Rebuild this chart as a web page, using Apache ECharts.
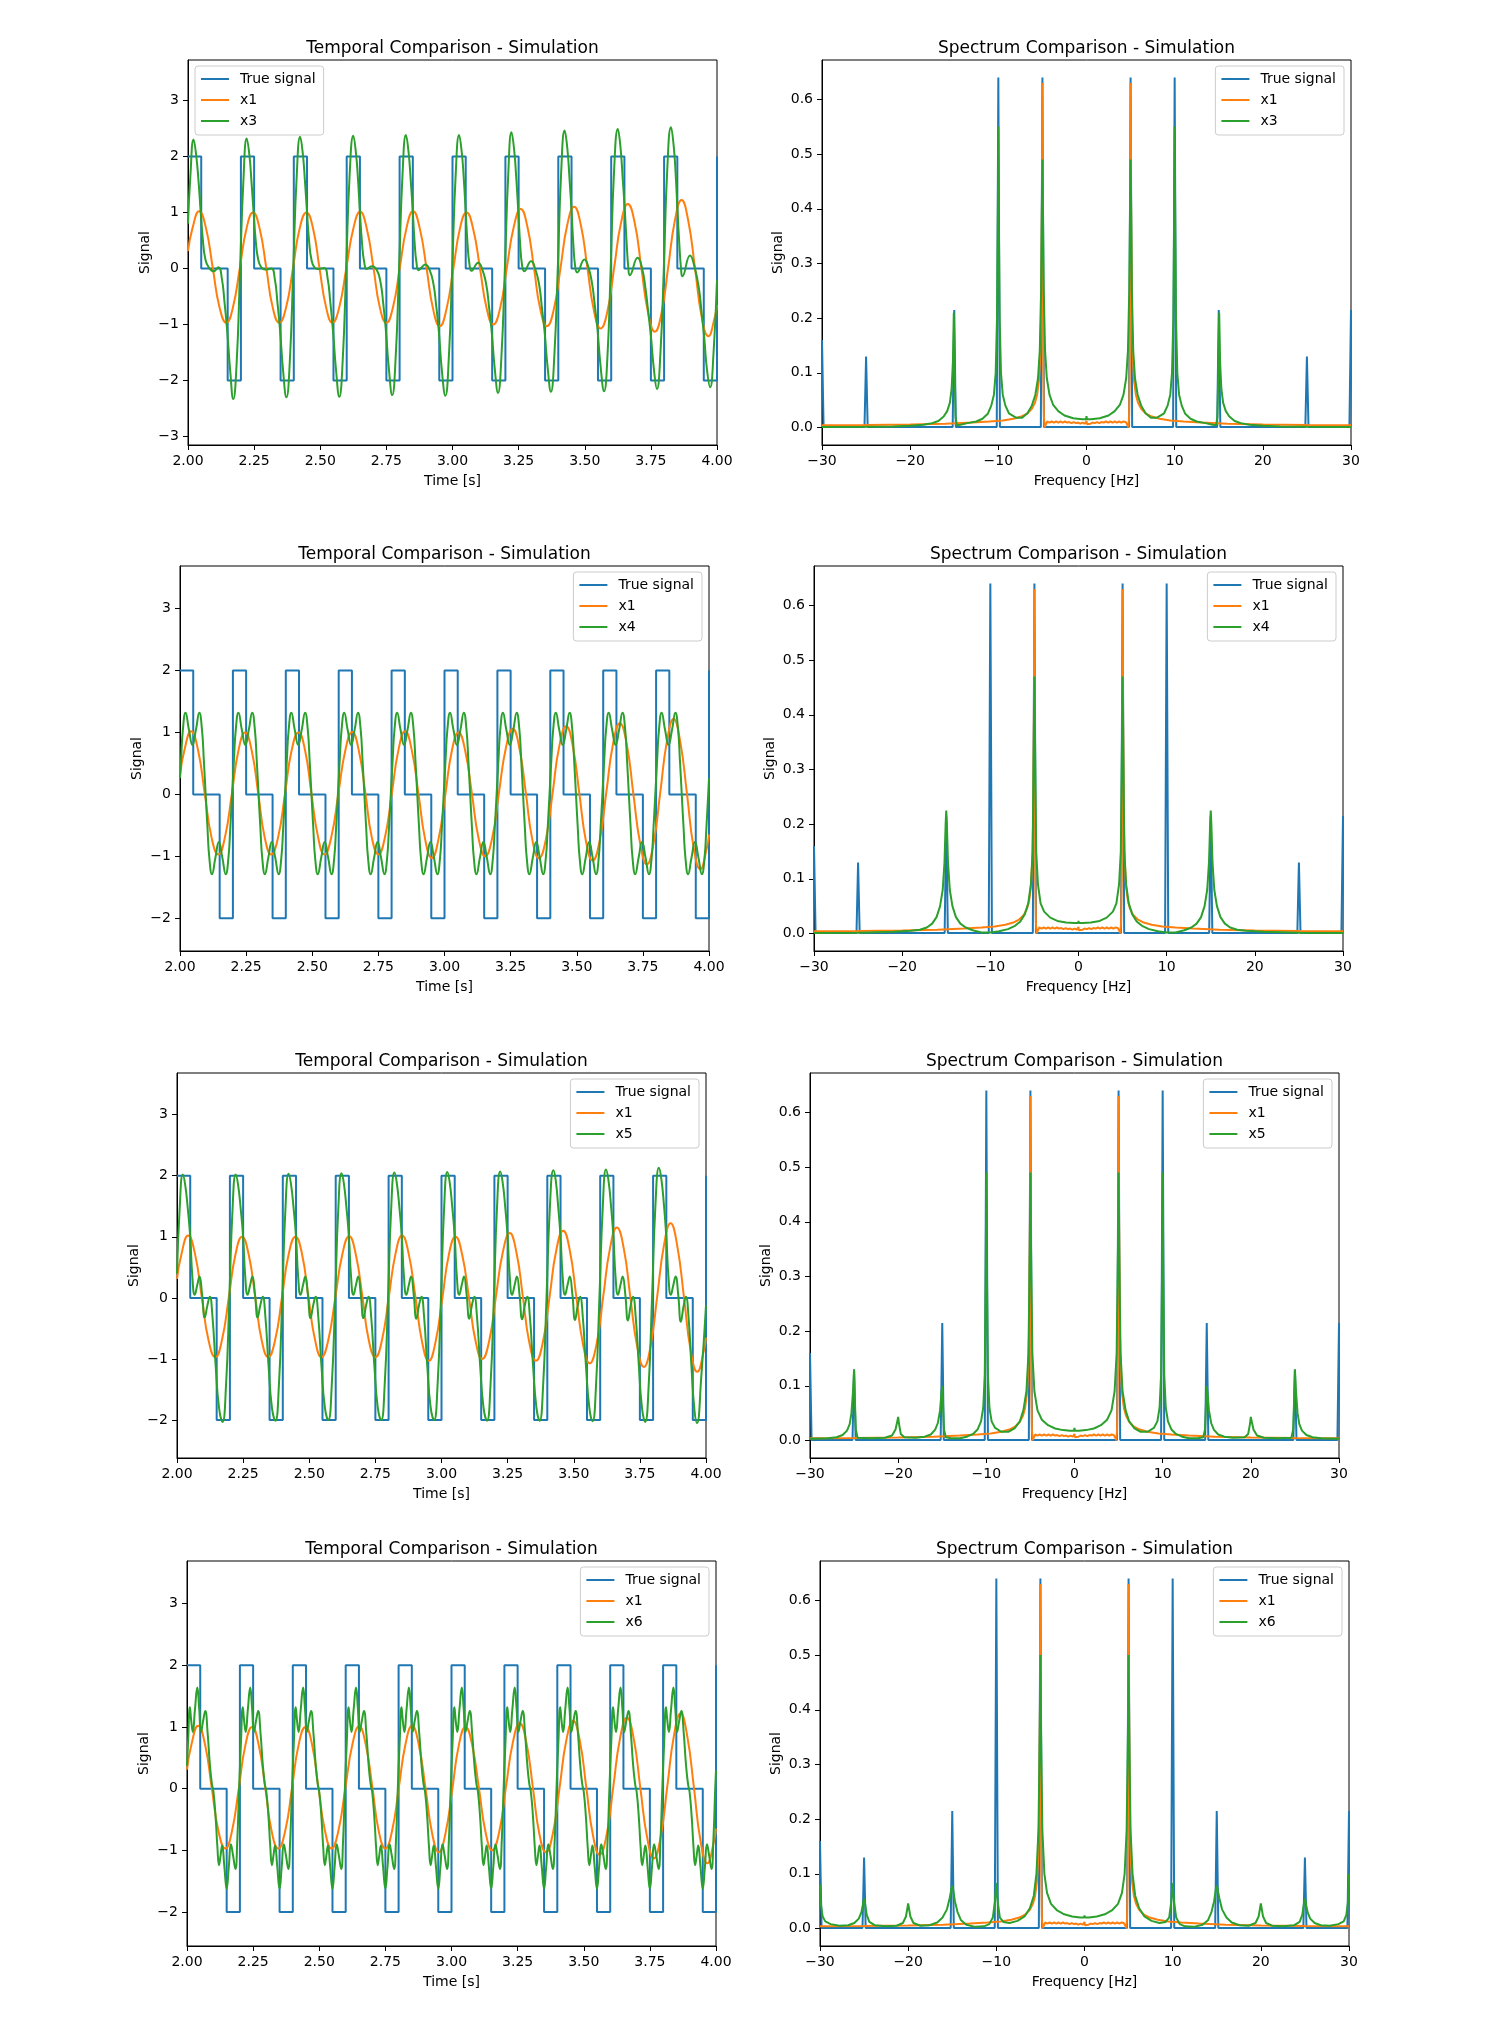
<!DOCTYPE html>
<html>
<head>
<meta charset="utf-8">
<title>Temporal / Spectrum Comparison - Simulation</title>
<script src="https://cdn.jsdelivr.net/npm/echarts@6/dist/echarts.min.js"></script>
<style>
  html, body { margin: 0; padding: 0; background: #fff; }
  #main { width: 1506px; height: 2028px; }
</style>
</head>
<body>
<div id="main"></div>
<script>
// ---- tick labels ----
var timeTicks = [2.00, 2.25, 2.50, 2.75, 3.00, 3.25, 3.50, 3.75, 4.00];
var signalTicks = [-3, -2, -1, 0, 1, 2, 3];
var freqTicks = [-30, -20, -10, 0, 10, 20, 30];
var specTicks = [0.0, 0.1, 0.2, 0.3, 0.4, 0.5, 0.6];
var estimateNames = ['x3', 'x4', 'x5', 'x6'];

// ---- time signals [t, value] ----
// true signal: value held until the next point
var trueSignal = [
  [2.00, 2], [2.05, 0], [2.15, -2], [2.20, 2], [2.25, 0], [2.35, -2],
  [2.40, 2], [2.45, 0], [2.55, -2], [2.60, 2], [2.65, 0], [2.75, -2],
  [2.80, 2], [2.85, 0], [2.95, -2], [3.00, 2], [3.05, 0], [3.15, -2],
  [3.20, 2], [3.25, 0], [3.35, -2], [3.40, 2], [3.45, 0], [3.55, -2],
  [3.60, 2], [3.65, 0], [3.75, -2], [3.80, 2], [3.85, 0], [3.95, -2],
  [4.00, 2]
];

var x1Signal = [
  [2.000,0.31],[2.017,0.72],[2.042,1.02],[2.068,0.72],[2.094,0.00],[2.119,-0.69],[2.145,-0.97],
  [2.170,-0.69],[2.196,0.01],[2.221,0.71],[2.246,1.00],[2.271,0.71],[2.296,0.01],[2.320,-0.69],[2.345,-0.97],
  [2.371,-0.69],[2.397,0.01],[2.422,0.71],[2.448,1.00],[2.473,0.71],[2.497,0.01],[2.522,-0.69],[2.546,-0.97],
  [2.572,-0.69],[2.599,0.02],[2.625,0.71],[2.651,1.01],[2.676,0.71],[2.701,0.02],[2.725,-0.69],[2.750,-0.97],
  [2.775,-0.69],[2.801,0.02],[2.826,0.72],[2.851,1.02],[2.876,0.72],[2.902,0.00],[2.927,-0.73],[2.952,-1.03],
  [2.977,-0.73],[3.003,-0.01],[3.028,0.71],[3.053,1.00],[3.078,0.71],[3.104,0.00],[3.129,-0.71],[3.154,-1.00],
  [3.180,-0.71],[3.206,0.03],[3.232,0.75],[3.258,1.06],[3.283,0.75],[3.308,0.01],[3.332,-0.73],[3.357,-1.03],
  [3.383,-0.73],[3.409,0.03],[3.434,0.78],[3.460,1.10],[3.485,0.78],[3.510,0.01],[3.535,-0.76],[3.560,-1.07],
  [3.586,-0.76],[3.612,0.04],[3.637,0.81],[3.663,1.15],[3.689,0.81],[3.714,0.01],[3.740,-0.80],[3.765,-1.13],
  [3.790,-0.80],[3.816,0.04],[3.841,0.86],[3.866,1.22],[3.891,0.86],[3.917,0.00],[3.942,-0.86],[3.967,-1.21],
  [3.992,-0.86],[4.000,-0.65]
];

var x3Signal = [
  [2.000,0.80],[2.009,1.65],
  [2.021,2.30],[2.031,2.02],[2.040,1.55],[2.048,1.00],[2.056,0.52],[2.065,0.18],[2.077,0.03],[2.097,-0.05],[2.115,0.02],[2.128,-0.18],[2.138,-0.60],[2.148,-1.10],[2.160,-1.85],[2.171,-2.33],[2.184,-1.68],[2.197,0.00],[2.210,1.62],
  [2.222,2.32],[2.232,2.03],[2.240,1.55],[2.248,1.00],[2.256,0.50],[2.265,0.17],[2.277,0.02],[2.292,-0.02],[2.315,0.00],[2.328,-0.18],[2.338,-0.60],[2.348,-1.10],[2.360,-1.85],[2.372,-2.30],[2.385,-1.65],[2.398,0.00],[2.411,1.65],
  [2.424,2.35],[2.434,2.05],[2.442,1.57],[2.450,1.00],[2.458,0.48],[2.467,0.15],[2.478,0.02],[2.492,-0.01],[2.515,0.01],[2.528,-0.18],[2.538,-0.60],[2.548,-1.10],[2.560,-1.83],[2.572,-2.29],[2.585,-1.63],[2.598,0.00],[2.611,1.66],
  [2.625,2.37],[2.635,2.06],[2.643,1.57],[2.650,1.00],[2.658,0.45],[2.666,0.12],[2.676,-0.01],[2.695,0.04],[2.713,-0.02],[2.728,-0.25],[2.738,-0.62],[2.748,-1.10],[2.760,-1.82],[2.772,-2.26],[2.785,-1.60],[2.798,0.00],[2.811,1.67],
  [2.824,2.38],[2.834,2.07],[2.842,1.58],[2.850,1.00],[2.857,0.45],[2.864,0.10],[2.872,-0.03],[2.897,0.07],[2.913,-0.02],[2.928,-0.28],[2.938,-0.65],[2.948,-1.10],[2.960,-1.83],[2.973,-2.27],[2.986,-1.60],[2.999,0.00],[3.012,1.67],
  [3.025,2.38],[3.035,2.07],[3.043,1.58],[3.050,1.00],[3.057,0.43],[3.064,0.08],[3.072,-0.04],[3.097,0.10],[3.113,-0.02],[3.128,-0.30],[3.138,-0.68],[3.148,-1.12],[3.160,-1.80],[3.172,-2.22],[3.185,-1.57],[3.198,0.00],[3.211,1.70],
  [3.223,2.43],[3.233,2.12],[3.241,1.62],[3.249,1.00],[3.256,0.42],[3.263,0.06],[3.271,-0.05],[3.297,0.13],[3.313,-0.01],[3.328,-0.30],[3.338,-0.70],[3.348,-1.12],[3.360,-1.78],[3.372,-2.20],[3.385,-1.56],[3.398,0.00],[3.411,1.73],
  [3.424,2.46],[3.434,2.15],[3.442,1.63],[3.450,1.03],[3.457,0.42],[3.464,0.03],[3.471,-0.07],[3.499,0.16],[3.514,0.02],[3.528,-0.28],[3.538,-0.66],[3.548,-1.08],[3.560,-1.75],[3.573,-2.19],[3.586,-1.55],[3.598,0.00],[3.611,1.75],
  [3.625,2.49],[3.635,2.17],[3.643,1.64],[3.652,1.00],[3.659,0.40],[3.665,0.00],[3.670,-0.12],[3.700,0.19],[3.716,0.02],[3.730,-0.37],[3.740,-0.78],[3.750,-1.20],[3.761,-1.78],[3.773,-2.15],[3.786,-1.52],[3.799,0.00],[3.812,1.77],
  [3.826,2.52],[3.836,2.20],[3.844,1.66],[3.851,1.00],[3.858,0.40],[3.864,0.00],[3.869,-0.14],[3.898,0.23],[3.915,0.03],[3.932,-0.37],[3.942,-0.80],[3.952,-1.25],[3.962,-1.80],[3.974,-2.12],[3.987,-1.50],[4.000,-0.20]
];

var x4Signal = [
  [2.000,0.26],[2.004,0.56],[2.011,1.05],[2.021,1.32],[2.034,1.04],[2.047,0.80],[2.060,1.04],[2.073,1.32],[2.083,1.05],[2.090,0.56],[2.097,0.00],[2.104,-0.55],[2.111,-1.03],[2.121,-1.29],[2.134,-1.02],[2.147,-0.77],[2.160,-1.02],[2.173,-1.29],[2.183,-1.03],[2.190,-0.55],[2.197,0.00],
  [2.204,0.56],[2.211,1.05],[2.221,1.32],[2.234,1.04],[2.247,0.80],[2.260,1.04],[2.273,1.32],[2.283,1.05],[2.290,0.56],[2.297,0.00],[2.304,-0.55],[2.311,-1.03],[2.321,-1.29],[2.334,-1.02],[2.347,-0.77],[2.360,-1.02],[2.373,-1.29],[2.383,-1.03],[2.390,-0.55],[2.397,0.00],
  [2.404,0.56],[2.411,1.05],[2.421,1.32],[2.434,1.04],[2.447,0.80],[2.460,1.04],[2.473,1.32],[2.483,1.05],[2.490,0.56],[2.497,0.00],[2.504,-0.55],[2.511,-1.03],[2.521,-1.29],[2.534,-1.02],[2.547,-0.77],[2.560,-1.02],[2.573,-1.29],[2.583,-1.03],[2.590,-0.55],[2.597,0.00],
  [2.604,0.56],[2.611,1.05],[2.621,1.32],[2.634,1.04],[2.647,0.80],[2.660,1.04],[2.673,1.32],[2.683,1.05],[2.690,0.56],[2.697,0.00],[2.704,-0.55],[2.711,-1.03],[2.721,-1.29],[2.734,-1.02],[2.747,-0.77],[2.760,-1.02],[2.773,-1.29],[2.783,-1.03],[2.790,-0.55],[2.797,0.00],
  [2.804,0.56],[2.811,1.05],[2.821,1.32],[2.834,1.04],[2.847,0.80],[2.860,1.04],[2.873,1.32],[2.883,1.05],[2.890,0.56],[2.897,0.00],[2.904,-0.55],[2.911,-1.03],[2.921,-1.29],[2.934,-1.02],[2.947,-0.77],[2.960,-1.02],[2.973,-1.29],[2.983,-1.03],[2.990,-0.55],[2.997,0.00],
  [3.004,0.56],[3.011,1.05],[3.021,1.32],[3.034,1.04],[3.047,0.80],[3.060,1.04],[3.073,1.32],[3.083,1.05],[3.090,0.56],[3.097,0.00],[3.104,-0.55],[3.111,-1.03],[3.121,-1.29],[3.134,-1.02],[3.147,-0.77],[3.160,-1.02],[3.173,-1.29],[3.183,-1.03],[3.190,-0.55],[3.197,0.00],
  [3.204,0.56],[3.211,1.05],[3.221,1.32],[3.234,1.04],[3.247,0.80],[3.260,1.04],[3.273,1.32],[3.283,1.05],[3.290,0.56],[3.297,0.00],[3.304,-0.55],[3.311,-1.03],[3.321,-1.29],[3.334,-1.02],[3.347,-0.77],[3.360,-1.02],[3.373,-1.29],[3.383,-1.03],[3.390,-0.55],[3.397,0.00],
  [3.404,0.56],[3.411,1.05],[3.421,1.32],[3.434,1.04],[3.447,0.80],[3.460,1.04],[3.473,1.32],[3.483,1.05],[3.490,0.56],[3.497,0.00],[3.504,-0.55],[3.511,-1.03],[3.521,-1.29],[3.534,-1.02],[3.547,-0.77],[3.560,-1.02],[3.573,-1.29],[3.583,-1.03],[3.590,-0.55],[3.597,0.00],
  [3.604,0.56],[3.611,1.05],[3.621,1.32],[3.634,1.04],[3.647,0.80],[3.660,1.04],[3.673,1.32],[3.683,1.05],[3.690,0.56],[3.697,0.00],[3.704,-0.55],[3.711,-1.03],[3.721,-1.29],[3.734,-1.02],[3.747,-0.77],[3.760,-1.02],[3.773,-1.29],[3.783,-1.03],[3.790,-0.55],[3.797,0.00],
  [3.804,0.56],[3.811,1.05],[3.821,1.32],[3.834,1.04],[3.847,0.80],[3.860,1.04],[3.873,1.32],[3.883,1.05],[3.890,0.56],[3.897,0.00],[3.904,-0.55],[3.911,-1.03],[3.921,-1.29],[3.934,-1.02],[3.947,-0.77],[3.960,-1.02],[3.973,-1.29],[3.983,-1.03],[3.990,-0.55],[3.997,0.00],
  [4.000,0.26]
];

var x5Signal = [
  [2.000,0.40],[2.010,1.45],
  [2.022,2.02],[2.031,1.85],[2.041,1.45],[2.050,1.00],[2.058,0.35],[2.067,0.05],[2.077,0.22],[2.085,0.35],[2.095,0.05],[2.105,-0.32],[2.115,-0.12],[2.124,0.02],[2.134,-0.30],[2.146,-1.10],[2.159,-1.80],[2.172,-2.03],[2.185,-1.46],[2.198,0.00],[2.210,1.45],
  [2.222,2.02],[2.231,1.85],[2.241,1.45],[2.250,1.00],[2.258,0.35],[2.267,0.05],[2.277,0.22],[2.285,0.35],[2.295,0.05],[2.305,-0.32],[2.315,-0.12],[2.324,0.02],[2.334,-0.30],[2.346,-1.10],[2.359,-1.80],[2.372,-2.01],[2.385,-1.45],[2.398,0.00],[2.410,1.46],
  [2.422,2.03],[2.431,1.86],[2.441,1.46],[2.450,1.00],[2.458,0.35],[2.467,0.05],[2.477,0.22],[2.485,0.35],[2.495,0.05],[2.505,-0.33],[2.515,-0.12],[2.524,0.02],[2.534,-0.30],[2.546,-1.10],[2.559,-1.79],[2.572,-2.00],[2.585,-1.44],[2.598,0.00],[2.610,1.47],
  [2.622,2.04],[2.631,1.87],[2.641,1.46],[2.650,1.00],[2.658,0.35],[2.667,0.05],[2.677,0.22],[2.685,0.35],[2.695,0.05],[2.705,-0.33],[2.715,-0.12],[2.724,0.02],[2.734,-0.30],[2.746,-1.10],[2.759,-1.79],[2.772,-2.00],[2.785,-1.44],[2.798,0.00],[2.810,1.48],
  [2.822,2.05],[2.831,1.88],[2.841,1.47],[2.850,1.00],[2.858,0.35],[2.867,0.05],[2.877,0.22],[2.885,0.35],[2.895,0.05],[2.905,-0.34],[2.915,-0.12],[2.924,0.02],[2.934,-0.30],[2.946,-1.10],[2.959,-1.79],[2.972,-2.00],[2.985,-1.44],[2.998,0.00],[3.010,1.48],
  [3.022,2.06],[3.031,1.89],[3.041,1.47],[3.050,1.00],[3.058,0.35],[3.067,0.05],[3.077,0.22],[3.085,0.35],[3.095,0.05],[3.105,-0.34],[3.115,-0.12],[3.124,0.02],[3.134,-0.30],[3.146,-1.10],[3.159,-1.80],[3.172,-2.01],[3.185,-1.45],[3.198,0.00],[3.210,1.49],
  [3.222,2.07],[3.231,1.90],[3.241,1.48],[3.250,1.00],[3.258,0.35],[3.267,0.05],[3.277,0.22],[3.285,0.35],[3.295,0.05],[3.305,-0.35],[3.315,-0.12],[3.324,0.02],[3.334,-0.30],[3.346,-1.10],[3.359,-1.80],[3.371,-2.01],[3.384,-1.45],[3.397,0.00],[3.410,1.50],
  [3.423,2.09],[3.432,1.92],[3.441,1.50],[3.450,1.00],[3.458,0.35],[3.467,0.05],[3.477,0.22],[3.485,0.35],[3.495,0.05],[3.505,-0.36],[3.515,-0.13],[3.524,0.02],[3.534,-0.30],[3.546,-1.10],[3.559,-1.80],[3.571,-2.02],[3.584,-1.45],[3.597,0.00],[3.610,1.51],
  [3.622,2.10],[3.631,1.93],[3.641,1.50],[3.650,1.00],[3.658,0.35],[3.667,0.05],[3.677,0.22],[3.685,0.35],[3.695,0.05],[3.705,-0.37],[3.715,-0.13],[3.724,0.02],[3.734,-0.30],[3.746,-1.10],[3.758,-1.80],[3.770,-2.03],[3.783,-1.46],[3.796,0.00],[3.809,1.53],
  [3.822,2.13],[3.831,1.95],[3.841,1.52],[3.850,1.00],[3.858,0.35],[3.867,0.05],[3.877,0.22],[3.885,0.35],[3.895,0.05],[3.905,-0.39],[3.915,-0.14],[3.924,0.02],[3.934,-0.32],[3.945,-1.12],[3.956,-1.82],[3.966,-2.05],[3.982,-1.30],[4.000,-0.12]
];

var x6Signal = [
  [2.000,0.37],
  [2.004,0.75],[2.011,1.32],[2.016,1.10],[2.022,0.92],[2.030,1.28],[2.039,1.64],[2.046,1.30],[2.053,0.92],[2.061,1.10],[2.069,1.26],[2.078,0.90],[2.086,0.42],[2.094,0.08],[2.100,-0.05],[2.108,-0.45],[2.115,-0.95],[2.121,-1.24],[2.127,-1.08],[2.133,-0.92],[2.141,-1.25],[2.150,-1.62],[2.158,-1.27],[2.166,-0.90],[2.174,-1.08],[2.183,-1.30],[2.190,-0.85],[2.197,0.00],
  [2.204,0.75],[2.211,1.32],[2.216,1.10],[2.222,0.92],[2.230,1.28],[2.239,1.64],[2.246,1.30],[2.253,0.92],[2.261,1.10],[2.269,1.26],[2.278,0.90],[2.286,0.42],[2.294,0.08],[2.300,-0.05],[2.308,-0.45],[2.315,-0.95],[2.321,-1.24],[2.327,-1.08],[2.333,-0.92],[2.341,-1.25],[2.350,-1.62],[2.358,-1.27],[2.366,-0.90],[2.374,-1.08],[2.383,-1.30],[2.390,-0.85],[2.397,0.00],
  [2.404,0.75],[2.411,1.32],[2.416,1.10],[2.422,0.92],[2.430,1.28],[2.439,1.64],[2.446,1.30],[2.453,0.92],[2.461,1.10],[2.469,1.26],[2.478,0.90],[2.486,0.42],[2.494,0.08],[2.500,-0.05],[2.508,-0.45],[2.515,-0.95],[2.521,-1.24],[2.527,-1.08],[2.533,-0.92],[2.541,-1.25],[2.550,-1.62],[2.558,-1.27],[2.566,-0.90],[2.574,-1.08],[2.583,-1.30],[2.590,-0.85],[2.597,0.00],
  [2.604,0.75],[2.611,1.32],[2.616,1.10],[2.622,0.92],[2.630,1.28],[2.639,1.64],[2.646,1.30],[2.653,0.92],[2.661,1.10],[2.669,1.26],[2.678,0.90],[2.686,0.42],[2.694,0.08],[2.700,-0.05],[2.708,-0.45],[2.715,-0.95],[2.721,-1.24],[2.727,-1.08],[2.733,-0.92],[2.741,-1.25],[2.750,-1.62],[2.758,-1.27],[2.766,-0.90],[2.774,-1.08],[2.783,-1.30],[2.790,-0.85],[2.797,0.00],
  [2.804,0.75],[2.811,1.32],[2.816,1.10],[2.822,0.92],[2.830,1.28],[2.839,1.64],[2.846,1.30],[2.853,0.92],[2.861,1.10],[2.869,1.26],[2.878,0.90],[2.886,0.42],[2.894,0.08],[2.900,-0.05],[2.908,-0.45],[2.915,-0.95],[2.921,-1.24],[2.927,-1.08],[2.933,-0.92],[2.941,-1.25],[2.950,-1.62],[2.958,-1.27],[2.966,-0.90],[2.974,-1.08],[2.983,-1.30],[2.990,-0.85],[2.997,0.00],
  [3.004,0.75],[3.011,1.32],[3.016,1.10],[3.022,0.92],[3.030,1.28],[3.039,1.64],[3.046,1.30],[3.053,0.92],[3.061,1.10],[3.069,1.26],[3.078,0.90],[3.086,0.42],[3.094,0.08],[3.100,-0.05],[3.108,-0.45],[3.115,-0.95],[3.121,-1.24],[3.127,-1.08],[3.133,-0.92],[3.141,-1.25],[3.150,-1.62],[3.158,-1.27],[3.166,-0.90],[3.174,-1.08],[3.183,-1.30],[3.190,-0.85],[3.197,0.00],
  [3.204,0.75],[3.211,1.32],[3.216,1.10],[3.222,0.92],[3.230,1.28],[3.239,1.64],[3.246,1.30],[3.253,0.92],[3.261,1.10],[3.269,1.26],[3.278,0.90],[3.286,0.42],[3.294,0.08],[3.300,-0.05],[3.308,-0.45],[3.315,-0.95],[3.321,-1.24],[3.327,-1.08],[3.333,-0.92],[3.341,-1.25],[3.350,-1.62],[3.358,-1.27],[3.366,-0.90],[3.374,-1.08],[3.383,-1.30],[3.390,-0.85],[3.397,0.00],
  [3.404,0.75],[3.411,1.32],[3.416,1.10],[3.422,0.92],[3.430,1.28],[3.439,1.64],[3.446,1.30],[3.453,0.92],[3.461,1.10],[3.469,1.26],[3.478,0.90],[3.486,0.42],[3.494,0.08],[3.500,-0.05],[3.508,-0.45],[3.515,-0.95],[3.521,-1.24],[3.527,-1.08],[3.533,-0.92],[3.541,-1.25],[3.550,-1.62],[3.558,-1.27],[3.566,-0.90],[3.574,-1.08],[3.583,-1.30],[3.590,-0.85],[3.597,0.00],
  [3.604,0.75],[3.611,1.32],[3.616,1.10],[3.622,0.92],[3.630,1.28],[3.639,1.64],[3.646,1.30],[3.653,0.92],[3.661,1.10],[3.669,1.26],[3.678,0.90],[3.686,0.42],[3.694,0.08],[3.700,-0.05],[3.708,-0.45],[3.715,-0.95],[3.721,-1.24],[3.727,-1.08],[3.733,-0.92],[3.741,-1.25],[3.750,-1.62],[3.758,-1.27],[3.766,-0.90],[3.774,-1.08],[3.783,-1.30],[3.790,-0.85],[3.797,0.00],
  [3.804,0.75],[3.811,1.32],[3.816,1.10],[3.822,0.92],[3.830,1.28],[3.839,1.64],[3.846,1.30],[3.853,0.92],[3.861,1.10],[3.869,1.26],[3.878,0.90],[3.886,0.42],[3.894,0.08],[3.900,-0.05],[3.908,-0.45],[3.915,-0.95],[3.921,-1.24],[3.927,-1.08],[3.933,-0.92],[3.941,-1.25],[3.950,-1.62],[3.958,-1.27],[3.966,-0.90],[3.974,-1.08],[3.983,-1.30],[3.990,-0.85],[3.997,0.00],
  [4.000,0.30]
];

// ---- spectra [frequency Hz, magnitude] ----
var trueSpectrum = [
  [-30.2,0.000],[-30.0,0.160],[-29.82,0.001],[-25.18,0.001],[-25.0,0.130],[-24.82,0.001],
  [-15.18,0.001],[-15.0,0.215],[-14.82,0.001],[-10.18,0.001],[-10.0,0.640],[-9.82,0.001],
  [-5.18,0.001],[-5.0,0.640],[-4.82,0.001],[4.82,0.001],[5.0,0.640],[5.18,0.001],
  [9.82,0.001],[10.0,0.640],[10.18,0.001],[14.82,0.001],[15.0,0.215],[15.18,0.001],
  [24.82,0.001],[25.0,0.130],[25.18,0.001],[29.82,0.001],[30.0,0.215],[30.2,0.000]
];

var x1Spectrum = [
  [-30,0.004],[-25,0.0045],[-20,0.0055],[-16,0.007],[-13,0.009],[-11,0.011],[-9.5,0.013],[-8.3,0.016],
  [-7.4,0.020],[-6.7,0.026],[-6.2,0.034],[-5.85,0.045],[-5.6,0.060],[-5.4,0.085],[-5.25,0.13],[-5.13,0.22],
  [-5.05,0.42],[-5.0,0.63],[-4.96,0.40],[-4.9,0.10],[-4.83,0.02],[-4.75,0.000],[-4.6,0.006],[-4.45,0.011],
  [-4.2,0.009],[-3.95,0.011],[-3.7,0.009],[-3.45,0.011],[-3.2,0.009],[-2.95,0.011],[-2.7,0.009],[-2.45,0.011],
  [-2.2,0.009],[-1.95,0.010],[-1.7,0.008],[-1.45,0.010],[-1.2,0.008],[-0.95,0.009],[-0.7,0.007],[-0.45,0.009],
  [-0.2,0.007],[-0.05,0.005],[0,0.012],[0.05,0.006],[0.2,0.008],[0.45,0.007],[0.7,0.009],[0.95,0.008],
  [1.2,0.010],[1.45,0.008],[1.7,0.010],[1.95,0.009],[2.2,0.011],[2.45,0.009],[2.7,0.011],[2.95,0.009],
  [3.2,0.011],[3.45,0.009],[3.7,0.011],[3.95,0.009],[4.2,0.011],[4.45,0.010],[4.6,0.006],[4.75,0.000],
  [4.83,0.02],[4.9,0.10],[4.96,0.40],[5.0,0.63],[5.05,0.42],[5.13,0.22],[5.25,0.13],[5.4,0.085],
  [5.6,0.060],[5.85,0.045],[6.2,0.034],[6.7,0.026],[7.4,0.020],[8.3,0.016],[9.5,0.013],[11,0.011],
  [13,0.009],[16,0.007],[20,0.0055],[25,0.0045],[30,0.004]
];

var x3Spectrum = [
  [-30,0.001],[-25,0.0015],[-22,0.002],[-20,0.003],[-18.5,0.005],[-17.5,0.008],[-16.8,0.012],[-16.2,0.020],
  [-15.8,0.030],[-15.5,0.045],[-15.3,0.070],[-15.15,0.12],[-15.05,0.21],[-14.95,0.10],[-14.85,0.02],[-14.7,0.004],
  [-14.3,0.005],[-13.5,0.008],[-12.5,0.011],[-11.8,0.016],[-11.2,0.025],[-10.8,0.040],[-10.5,0.060],[-10.3,0.10],
  [-10.15,0.20],[-10.05,0.40],[-10.0,0.55],[-9.95,0.40],[-9.85,0.20],[-9.7,0.10],[-9.5,0.060],[-9.2,0.040],
  [-8.8,0.026],[-8.0,0.018],[-7.3,0.018],[-6.7,0.026],[-6.2,0.040],[-5.8,0.060],[-5.5,0.090],[-5.3,0.14],
  [-5.15,0.25],[-5.05,0.42],[-5.0,0.49],[-4.95,0.42],[-4.85,0.25],[-4.7,0.14],[-4.5,0.090],[-4.2,0.060],
  [-3.8,0.042],[-3.2,0.030],[-2.5,0.022],[-1.5,0.017],[-0.5,0.015],[-0.05,0.015],[0,0.021],[0.05,0.015],
  [0.5,0.015],[1.5,0.017],[2.5,0.022],[3.2,0.030],[3.8,0.042],[4.2,0.060],[4.5,0.090],[4.7,0.14],
  [4.85,0.25],[4.95,0.42],[5.0,0.49],[5.05,0.42],[5.15,0.25],[5.3,0.14],[5.5,0.090],[5.8,0.060],
  [6.2,0.040],[6.7,0.026],[7.3,0.018],[8.0,0.018],[8.8,0.026],[9.2,0.040],[9.5,0.060],[9.7,0.10],
  [9.85,0.20],[9.95,0.40],[10.0,0.55],[10.05,0.40],[10.15,0.20],[10.3,0.10],[10.5,0.060],[10.8,0.040],
  [11.2,0.025],[11.8,0.016],[12.5,0.011],[13.5,0.008],[14.3,0.005],[14.7,0.004],[14.85,0.02],[14.95,0.10],
  [15.05,0.21],[15.15,0.12],[15.3,0.070],[15.5,0.045],[15.8,0.030],[16.2,0.020],[16.8,0.012],[17.5,0.008],
  [18.5,0.005],[20,0.003],[22,0.002],[25,0.0015],[30,0.001]
];

var x4Spectrum = [
  [-30,0.001],[-25,0.0015],[-21,0.003],[-19,0.005],[-18,0.007],[-17.2,0.011],[-16.6,0.018],[-16.1,0.030],
  [-15.7,0.050],[-15.4,0.080],[-15.2,0.13],[-15.07,0.20],[-15.0,0.225],[-14.93,0.20],[-14.8,0.13],[-14.6,0.080],
  [-14.3,0.050],[-13.9,0.030],[-13.4,0.018],[-12.8,0.011],[-12,0.006],[-11,0.002],[-10,0.002],[-9,0.004],
  [-8,0.008],[-7.2,0.014],[-6.6,0.022],[-6.1,0.035],[-5.7,0.055],[-5.4,0.090],[-5.2,0.15],[-5.07,0.35],
  [-5.0,0.47],[-4.93,0.35],[-4.8,0.15],[-4.6,0.090],[-4.3,0.055],[-3.9,0.040],[-3.2,0.029],[-2.4,0.023],
  [-1.4,0.020],[-0.5,0.019],[-0.05,0.019],[0,0.023],[0.05,0.019],[0.5,0.019],[1.4,0.020],[2.4,0.023],
  [3.2,0.029],[3.9,0.040],[4.3,0.055],[4.6,0.090],[4.8,0.15],[4.93,0.35],[5.0,0.47],[5.07,0.35],
  [5.2,0.15],[5.4,0.090],[5.7,0.055],[6.1,0.035],[6.6,0.022],[7.2,0.014],[8,0.008],[9,0.004],
  [10,0.002],[11,0.002],[12,0.006],[12.8,0.011],[13.4,0.018],[13.9,0.030],[14.3,0.050],[14.6,0.080],
  [14.8,0.13],[14.93,0.20],[15.0,0.225],[15.07,0.20],[15.2,0.13],[15.4,0.080],[15.7,0.050],[16.1,0.030],
  [16.6,0.018],[17.2,0.011],[18,0.007],[19,0.005],[21,0.003],[25,0.0015],[30,0.001]
];

var x5Spectrum = [
  [-30,0.003],[-28,0.004],[-27,0.006],[-26.3,0.010],[-25.8,0.018],[-25.5,0.030],[-25.3,0.050],[-25.12,0.090],
  [-25.0,0.13],[-24.9,0.070],[-24.8,0.020],[-24.6,0.005],[-23,0.004],[-21.5,0.005],[-20.7,0.009],[-20.3,0.020],
  [-20.1,0.035],[-20.0,0.043],[-19.9,0.030],[-19.7,0.012],[-19.3,0.006],[-18,0.005],[-17,0.007],[-16.3,0.011],
  [-15.8,0.020],[-15.5,0.032],[-15.25,0.055],[-15.1,0.085],[-15.0,0.10],[-14.9,0.060],[-14.8,0.020],[-14.6,0.006],
  [-14,0.004],[-13,0.004],[-12.2,0.007],[-11.5,0.012],[-11,0.020],[-10.6,0.035],[-10.35,0.060],[-10.18,0.12],
  [-10.07,0.30],[-10.0,0.49],[-9.93,0.30],[-9.82,0.12],[-9.65,0.060],[-9.4,0.035],[-9.0,0.023],[-8.3,0.016],
  [-7.5,0.016],[-6.8,0.022],[-6.2,0.035],[-5.8,0.055],[-5.45,0.090],[-5.22,0.16],[-5.07,0.35],[-5.0,0.49],
  [-4.93,0.35],[-4.78,0.16],[-4.55,0.090],[-4.2,0.055],[-3.7,0.038],[-3.0,0.028],[-2.2,0.022],[-1.3,0.019],
  [-0.5,0.018],[-0.05,0.018],[0,0.023],[0.05,0.018],[0.5,0.018],[1.3,0.019],[2.2,0.022],[3.0,0.028],
  [3.7,0.038],[4.2,0.055],[4.55,0.090],[4.78,0.16],[4.93,0.35],[5.0,0.49],[5.07,0.35],[5.22,0.16],
  [5.45,0.090],[5.8,0.055],[6.2,0.035],[6.8,0.022],[7.5,0.016],[8.3,0.016],[9.0,0.023],[9.4,0.035],
  [9.65,0.060],[9.82,0.12],[9.93,0.30],[10.0,0.49],[10.07,0.30],[10.18,0.12],[10.35,0.060],[10.6,0.035],
  [11,0.020],[11.5,0.012],[12.2,0.007],[13,0.004],[14,0.004],[14.6,0.006],[14.8,0.020],[14.9,0.060],
  [15.0,0.10],[15.1,0.085],[15.25,0.055],[15.5,0.032],[15.8,0.020],[16.3,0.011],[17,0.007],[18,0.005],
  [19.3,0.006],[19.7,0.012],[19.9,0.030],[20.0,0.043],[20.1,0.035],[20.3,0.020],[20.7,0.009],[21.5,0.005],
  [23,0.004],[24.6,0.005],[24.8,0.020],[24.9,0.070],[25.0,0.13],[25.12,0.090],[25.3,0.050],[25.5,0.030],
  [25.8,0.018],[26.3,0.010],[27,0.006],[28,0.004],[30,0.003]
];

var x6Spectrum = [
  [-30,0.080],[-29.9,0.045],[-29.7,0.022],[-29.4,0.013],[-28.8,0.008],[-27.8,0.005],[-26.8,0.006],[-26.1,0.010],
  [-25.6,0.018],[-25.3,0.030],[-25.12,0.045],[-25.0,0.055],[-24.88,0.045],[-24.7,0.025],[-24.4,0.012],[-23.8,0.006],
  [-22.5,0.004],[-21.3,0.005],[-20.6,0.010],[-20.25,0.022],[-20.08,0.038],[-20.0,0.046],[-19.92,0.038],[-19.75,0.022],
  [-19.4,0.010],[-18.6,0.005],[-17.6,0.006],[-16.7,0.011],[-16.1,0.020],[-15.6,0.035],[-15.3,0.055],[-15.1,0.072],
  [-15.0,0.078],[-14.9,0.072],[-14.7,0.050],[-14.4,0.030],[-14.0,0.015],[-13.4,0.007],[-12.4,0.003],[-11.4,0.004],
  [-10.8,0.008],[-10.4,0.020],[-10.15,0.050],[-10.0,0.083],[-9.85,0.050],[-9.6,0.020],[-9.2,0.012],[-8.5,0.010],
  [-7.6,0.014],[-6.8,0.022],[-6.2,0.037],[-5.75,0.060],[-5.45,0.10],[-5.22,0.18],[-5.07,0.36],[-5.0,0.50],
  [-4.93,0.36],[-4.78,0.18],[-4.55,0.10],[-4.25,0.065],[-3.8,0.045],[-3.1,0.033],[-2.3,0.026],[-1.4,0.022],
  [-0.5,0.020],[-0.05,0.020],[0,0.024],[0.05,0.020],[0.5,0.020],[1.4,0.022],[2.3,0.026],[3.1,0.033],
  [3.8,0.045],[4.25,0.065],[4.55,0.10],[4.78,0.18],[4.93,0.36],[5.0,0.50],[5.07,0.36],[5.22,0.18],
  [5.45,0.10],[5.75,0.060],[6.2,0.037],[6.8,0.022],[7.6,0.014],[8.5,0.010],[9.2,0.012],[9.6,0.020],
  [9.85,0.050],[10.0,0.083],[10.15,0.050],[10.4,0.020],[10.8,0.008],[11.4,0.004],[12.4,0.003],[13.4,0.007],
  [14.0,0.015],[14.4,0.030],[14.7,0.050],[14.9,0.072],[15.0,0.078],[15.1,0.072],[15.3,0.055],[15.6,0.035],
  [16.1,0.020],[16.7,0.011],[17.6,0.006],[18.6,0.005],[19.4,0.010],[19.75,0.022],[19.92,0.038],[20.0,0.046],
  [20.08,0.038],[20.25,0.022],[20.6,0.010],[21.3,0.005],[22.5,0.004],[23.8,0.006],[24.4,0.012],[24.7,0.025],
  [24.88,0.045],[25.0,0.055],[25.12,0.045],[25.3,0.030],[25.6,0.018],[26.1,0.010],[26.8,0.006],[27.8,0.005],
  [28.8,0.008],[29.4,0.013],[29.7,0.025],[29.9,0.050],[30,0.100]
];

var estimateSignals = [x3Signal, x4Signal, x5Signal, x6Signal];
var estimateSpectra = [x3Spectrum, x4Spectrum, x5Spectrum, x6Spectrum];

(function () {
    'use strict';
    var myChart = echarts.init(document.getElementById('main'));

    var BLUE = '#1f77b4', ORANGE = '#ff7f0e', GREEN = '#2ca02c';
    var FONT = 'DejaVu Sans';
    var PW = 529, PH = 385;
    // layout of the 4 rows (each row = one temporal + one spectrum plot)
    var rowTop = [60, 566, 1073, 1561];
    var rowLeft = [[188, 822], [180, 814], [177, 810], [187, 820]];
    var timeYRange = [[-3.15, 3.72], [-2.53, 3.69], [-2.62, 3.68], [-2.55, 3.69]];
    var specYRange = [-0.032, 0.672];

    function minus(s) {
        return String(s).replace('-', '\u2212');
    }

    function axisBase(gi, min, max, ticks, fmt, name, gap) {
        var shown = ticks.filter(function (v) { return v >= min - 1e-9 && v <= max + 1e-9; });
        return {
            type: 'value', gridIndex: gi, min: min, max: max,
            name: name, nameLocation: 'middle', nameGap: gap,
            nameTextStyle: { color: '#000', fontFamily: FONT, fontSize: 14 },
            axisLine: { show: true, onZero: false, lineStyle: { color: '#000', width: 1 } },
            axisTick: { show: true, inside: false, length: 5, lineStyle: { color: '#000', width: 1 }, customValues: shown },
            axisLabel: { color: '#000', fontFamily: FONT, fontSize: 14, margin: 9, formatter: fmt, customValues: shown },
            splitLine: { show: false }
        };
    }

    var option = {
        animation: false,
        backgroundColor: '#ffffff',
        title: [], grid: [], xAxis: [], yAxis: [], legend: [], series: []
    };

    for (var r = 0; r < 4; r++) {
        for (var c = 0; c < 2; c++) {
            var gi = r * 2 + c;
            var left = rowLeft[r][c];
            var top = rowTop[r];
            option.grid.push({
                left: left, top: top, width: PW, height: PH,
                show: true, borderColor: '#000', borderWidth: 1, backgroundColor: 'transparent'
            });
            option.title.push({
                text: c === 0 ? 'Temporal Comparison - Simulation' : 'Spectrum Comparison - Simulation',
                left: left + PW / 2, top: top - 20, textAlign: 'center', padding: 0,
                textStyle: { color: '#000', fontFamily: FONT, fontSize: 17, fontWeight: 'normal' }
            });

            var legendPos = { top: top + 6 };
            if (c === 0 && r === 0) {
                legendPos.left = left + 7;
            } else {
                legendPos.right = 1506 - (left + PW - 7);
            }
            option.legend.push(Object.assign({
                data: ['True signal', 'x1', estimateNames[r]],
                orient: 'vertical', icon: 'rect', itemWidth: 28, itemHeight: 2, itemGap: 5,
                padding: [5, 8, 6, 6],
                backgroundColor: 'rgba(255,255,255,0.8)', borderColor: '#cccccc', borderWidth: 1, borderRadius: 3,
                selectedMode: false,
                textStyle: { color: '#000', fontFamily: FONT, fontSize: 14, lineHeight: 16, padding: [0, 0, 0, 6] }
            }, legendPos));

            if (c === 0) {
                option.xAxis.push(axisBase(gi, 2, 4, timeTicks, function (v) { return v.toFixed(2); }, 'Time [s]', 29));
                option.yAxis.push(axisBase(gi, timeYRange[r][0], timeYRange[r][1], signalTicks,
                    function (v) { return minus(v.toFixed(0)); }, 'Signal', 36));
                option.series.push(
                    { name: 'True signal', type: 'line', xAxisIndex: gi, yAxisIndex: gi, data: trueSignal,
                      step: 'end', symbol: 'none', lineStyle: { color: BLUE, width: 2 }, itemStyle: { color: BLUE } },
                    { name: 'x1', type: 'line', xAxisIndex: gi, yAxisIndex: gi, data: x1Signal,
                      smooth: true, symbol: 'none', lineStyle: { color: ORANGE, width: 2 }, itemStyle: { color: ORANGE } },
                    { name: estimateNames[r], type: 'line', xAxisIndex: gi, yAxisIndex: gi, data: estimateSignals[r],
                      smooth: true, symbol: 'none', lineStyle: { color: GREEN, width: 2 }, itemStyle: { color: GREEN } }
                );
            } else {
                option.xAxis.push(axisBase(gi, -30, 30, freqTicks, function (v) { return minus(v.toFixed(0)); }, 'Frequency [Hz]', 29));
                option.yAxis.push(axisBase(gi, specYRange[0], specYRange[1], specTicks,
                    function (v) { return v.toFixed(1); }, 'Signal', 37));
                option.series.push(
                    { name: 'True signal', type: 'line', xAxisIndex: gi, yAxisIndex: gi, data: trueSpectrum,
                      symbol: 'none', lineStyle: { color: BLUE, width: 2 }, itemStyle: { color: BLUE } },
                    { name: 'x1', type: 'line', xAxisIndex: gi, yAxisIndex: gi, data: x1Spectrum,
                      symbol: 'none', lineStyle: { color: ORANGE, width: 2 }, itemStyle: { color: ORANGE } },
                    { name: estimateNames[r], type: 'line', xAxisIndex: gi, yAxisIndex: gi, data: estimateSpectra[r],
                      symbol: 'none', lineStyle: { color: GREEN, width: 2 }, itemStyle: { color: GREEN } }
                );
            }
        }
    }

    myChart.setOption(option);
    window.addEventListener('resize', function () {
        myChart.resize();
    });
})();
</script>
</body>
</html>
